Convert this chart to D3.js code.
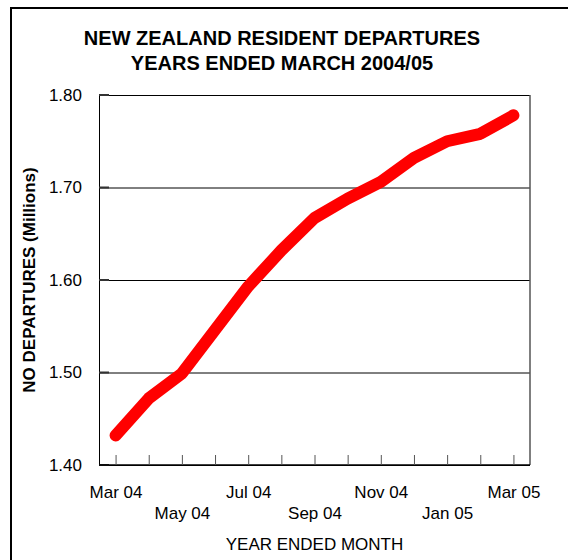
<!DOCTYPE html>
<html>
<head>
<meta charset="utf-8">
<script src="https://cdn.jsdelivr.net/npm/d3@7"></script>
<style>
  body { margin: 0; background: #fff; }
  svg { display: block; font-family: "Liberation Sans", Arial, sans-serif; }
</style>
</head>
<body>
<svg width="568" height="560"></svg>
<script>
// data
var months = ["Mar 04", "Apr 04", "May 04", "Jun 04", "Jul 04", "Aug 04", "Sep 04",
              "Oct 04", "Nov 04", "Dec 04", "Jan 05", "Feb 05", "Mar 05"];
var departures = [1.432, 1.472, 1.499, 1.546, 1.593, 1.632, 1.667,
                  1.688, 1.706, 1.732, 1.750, 1.758, 1.778];
var yTicks = [1.40, 1.50, 1.60, 1.70, 1.80];
var titleLines = ["NEW ZEALAND RESIDENT DEPARTURES", "YEARS ENDED MARCH 2004/05"];

var svg = d3.select("svg"),
    width = +svg.attr("width"),
    height = +svg.attr("height");

var plot = { left: 99, right: 530, top: 95, bottom: 465 };

// outer frame (runs off the page on the right/bottom)
svg.append("rect")
    .attr("x", 11).attr("y", 8)
    .attr("width", 620).attr("height", 620)
    .attr("fill", "none")
    .attr("stroke", "#000")
    .attr("stroke-width", 2);

// title
svg.append("g").selectAll("text")
    .data(titleLines)
    .enter().append("text")
    .attr("x", 282)
    .attr("y", function(d, i) { return 45 + i * 25; })
    .attr("text-anchor", "middle")
    .attr("font-size", 20)
    .attr("font-weight", "bold")
    .text(function(d) { return d; });

// scales
var x = d3.scalePoint()
    .domain(months)
    .range([plot.left, plot.right])
    .padding(0.5);

var y = d3.scaleLinear()
    .domain([1.4, 1.8])
    .range([plot.bottom, plot.top]);

// y axis + grid lines
var yAxis = svg.append("g")
    .attr("transform", "translate(" + plot.left + ",0)")
    .call(d3.axisLeft(y)
      .tickValues(yTicks)
      .tickFormat(d3.format(".2f"))
      .tickSize(-(plot.right - plot.left))
      .tickPadding(17));
yAxis.select(".domain").attr("stroke", "#000");
yAxis.selectAll(".tick line").attr("stroke", "#000");
yAxis.selectAll(".tick text")
    .attr("font-size", 17)
    .attr("font-family", "Liberation Sans, Arial, sans-serif")
    .attr("fill", "#000");

// short inward ticks on the left axis
svg.append("g").selectAll("line")
    .data(yTicks)
    .enter().append("line")
    .attr("x1", plot.left).attr("x2", plot.left + 10)
    .attr("y1", function(d) { return y(d); })
    .attr("y2", function(d) { return y(d); })
    .attr("stroke", "#333")
    .attr("stroke-width", 2);

// right border
svg.append("line")
    .attr("x1", plot.right).attr("x2", plot.right)
    .attr("y1", plot.top).attr("y2", plot.bottom)
    .attr("stroke", "#555")
    .attr("stroke-width", 1.5);

// x axis
var xAxis = svg.append("g")
    .attr("transform", "translate(0," + plot.bottom + ")")
    .call(d3.axisBottom(x)
      .tickSizeInner(-10)
      .tickSizeOuter(0)
      .tickFormat(function(d, i) { return i % 2 === 0 ? d : ""; }));
xAxis.select(".domain")
    .attr("d", "M" + plot.left + ",0H" + plot.right)
    .attr("stroke", "#000")
    .attr("stroke-width", 1.5);
xAxis.selectAll(".tick line").attr("stroke", "#555");
xAxis.selectAll(".tick text")
    .attr("font-size", 17)
    .attr("font-family", "Liberation Sans, Arial, sans-serif")
    .attr("fill", "#000")
    .attr("dy", 0)
    .attr("y", function(d, i) { return i % 4 === 0 ? 33 : 54; });

// axis titles
svg.append("text")
    .attr("x", (plot.left + plot.right) / 2)
    .attr("y", 550)
    .attr("text-anchor", "middle")
    .attr("font-size", 17)
    .text("YEAR ENDED MONTH");

svg.append("text")
    .attr("transform", "translate(35," + ((plot.top + plot.bottom) / 2) + ") rotate(-90)")
    .attr("text-anchor", "middle")
    .attr("font-size", 17)
    .attr("font-weight", "bold")
    .text("NO DEPARTURES (Millions)");

// series line
var line = d3.line()
    .x(function(d, i) { return x(months[i]); })
    .y(function(d) { return y(d); });

svg.append("path")
    .datum(departures)
    .attr("d", line)
    .attr("fill", "none")
    .attr("stroke", "#ff0000")
    .attr("stroke-width", 12)
    .attr("stroke-linecap", "round")
    .attr("stroke-linejoin", "round");
</script>
</body>
</html>
